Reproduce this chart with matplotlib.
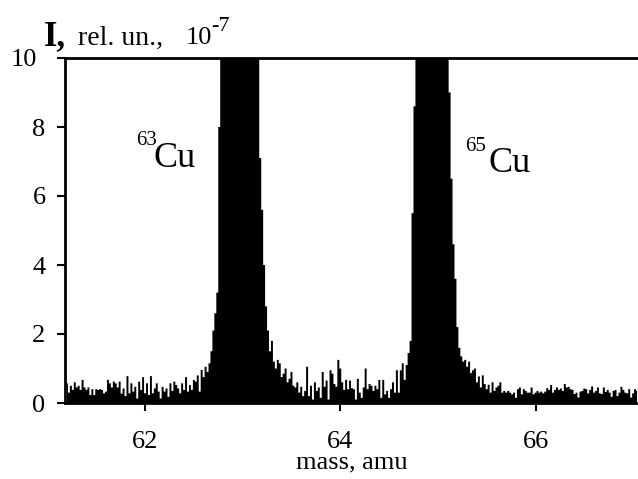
import matplotlib
matplotlib.use("Agg")
import matplotlib.pyplot as plt
import matplotlib.transforms as mtransforms
import numpy as np

# spectrum sampled every 0.02 amu starting at 61.20 amu (intensity in 1e-7 rel. units)
mass_start = 61.20
mass_step = 0.02

base_left = [
    0.57, 0.30, 0.50, 0.38, 0.60, 0.45, 0.50, 0.38, 0.67, 0.45,
    0.38, 0.45, 0.23, 0.40, 0.23, 0.40, 0.38, 0.40, 0.38, 0.28,
    0.33, 0.67, 0.57, 0.45, 0.62, 0.57, 0.45, 0.62, 0.27, 0.42,
    0.20, 0.78, 0.28, 0.57, 0.33, 0.47, 0.13, 0.62, 0.38, 0.75,
    0.28, 0.57, 0.23, 0.78, 0.28, 0.42, 0.57, 0.33, 0.13, 0.47,
    0.33, 0.42, 0.18, 0.57, 0.35, 0.62, 0.52, 0.42, 0.28, 0.57,
    0.38, 0.75, 0.33, 0.52, 0.38, 0.67, 0.62, 0.80, 0.33, 0.96,
    0.75, 1.05, 0.90, 1.15,
]
peak63 = [
    1.5, 2.1, 2.6, 3.2, 8.0,
    11, 14, 18, 22, 26, 29, 31, 32, 33, 33, 32, 31, 29, 27, 24, 21, 18, 15, 12, 10.5,
    7.1, 5.6, 4.0, 2.8, 2.1,
]
base_mid = [
    1.5, 1.8, 1.2, 1.0, 1.25, 1.15, 0.75, 0.85, 1.0, 0.6,
    0.7, 0.9, 0.5, 0.45, 0.6, 0.3, 0.47, 0.2, 0.35, 1.05,
    0.2, 0.5, 0.1, 0.6, 0.35, 0.45, 0.15, 0.9, 0.47, 0.65,
    0.1, 0.95, 0.85, 0.55, 0.47, 1.25, 1.0, 0.6, 0.38, 0.67,
    0.4, 0.65, 0.43, 0.4, 0.1, 0.7, 0.3, 0.15, 0.45, 1.0,
    0.4, 0.55, 0.5, 0.35, 0.5, 0.4, 0.67, 0.15, 0.67, 0.25,
    0.35, 0.15, 0.4, 0.6, 0.3, 0.95, 0.3, 0.95, 1.15, 0.67,
    1.1, 1.45, 1.8,
]
peak65 = [
    5.5, 8.6,
    11, 13, 16, 19, 21, 22, 23, 23, 22, 21, 19, 17, 15, 13, 12, 11, 10.5,
    9.0, 6.5, 4.6, 3.6, 2.2, 1.6,
]
base_right = [
    1.35, 1.2, 1.25, 1.05, 1.2, 0.87, 0.95, 1.0, 0.6, 0.77,
    0.45, 0.8, 0.55, 0.4, 0.53, 0.3, 0.6, 0.35, 0.45, 0.5,
    0.6, 0.3, 0.35, 0.3, 0.35, 0.3, 0.25, 0.3, 0.15, 0.4,
    0.45, 0.25, 0.4, 0.35, 0.3, 0.3, 0.45, 0.25, 0.3, 0.35,
    0.3,
    0.33, 0.28, 0.33, 0.43, 0.38, 0.52, 0.30, 0.38, 0.45, 0.38,
    0.42, 0.35, 0.55, 0.45, 0.47, 0.40, 0.38, 0.26, 0.30, 0.16,
    0.33, 0.35, 0.42, 0.40, 0.28, 0.38, 0.48, 0.30, 0.35, 0.45,
    0.28, 0.26, 0.45, 0.32, 0.38, 0.30, 0.18, 0.35, 0.38, 0.20,
    0.30, 0.47, 0.38, 0.30, 0.28, 0.40, 0.16, 0.28, 0.40, 0.35,
]

intensity = np.array(base_left + peak63 + base_mid + peak65 + base_right)
mass = mass_start + mass_step * np.arange(len(intensity))

x_ticks = [62, 64, 66]
y_ticks = [0, 2, 4, 6, 8, 10]

plt.rcParams["font.family"] = ["Liberation Serif", "DejaVu Serif"]

W, H = 638, 479
fig = plt.figure(figsize=(W / 100, H / 100), dpi=100)
ax = fig.add_axes([65 / W, 1 - 403 / H, 1 - 65 / W, (403 - 58) / H])

ax.fill_between(mass, intensity, 0, step="mid", color="black", linewidth=0)

ax.set_xlim(61.18, 67.05)
ax.set_ylim(0, 10)
ax.set_xticks(x_ticks)
ax.set_yticks(y_ticks)
ax.tick_params(direction="out", length=6, width=1.5, labelsize=19)
ax.tick_params(axis="y", pad=8)
ax.tick_params(axis="x", pad=14)

# the "10" label sits further left in the original
top_lab = ax.get_yticklabels()[-1]
top_lab.set_transform(top_lab.get_transform() +
                      mtransforms.ScaledTranslation(-9 / 100, 0, fig.dpi_scale_trans))

for side in ("left", "bottom", "top"):
    ax.spines[side].set_linewidth(2)
ax.spines["right"].set_visible(False)

ax.set_xlabel("mass, amu", fontsize=19, labelpad=-1)

# y axis caption above the plot
fig.text(44 / W, 1 - 45 / H, "I,", fontsize=25, fontweight="bold", ha="left", va="baseline")
fig.text(78 / W, 1 - 45 / H, "rel. un.,", fontsize=20, ha="left", va="baseline")
fig.text(186 / W, 1 - 44 / H, "10", fontsize=19, ha="left", va="baseline")
fig.text(211 / W, 1 - 31 / H, "-7", fontsize=16, ha="left", va="baseline")

# isotope labels
ax.text(61.91, (403 - 145) / 34.5, "63", fontsize=15, ha="left", va="baseline")
ax.text(62.09, (403 - 167) / 34.5, "Cu", fontsize=26, ha="left", va="baseline")
ax.text(65.28, (403 - 151) / 34.5, "65", fontsize=15, ha="left", va="baseline")
ax.text(65.52, (403 - 172) / 34.5, "Cu", fontsize=26, ha="left", va="baseline")

fig.savefig("out.png", dpi=100)
